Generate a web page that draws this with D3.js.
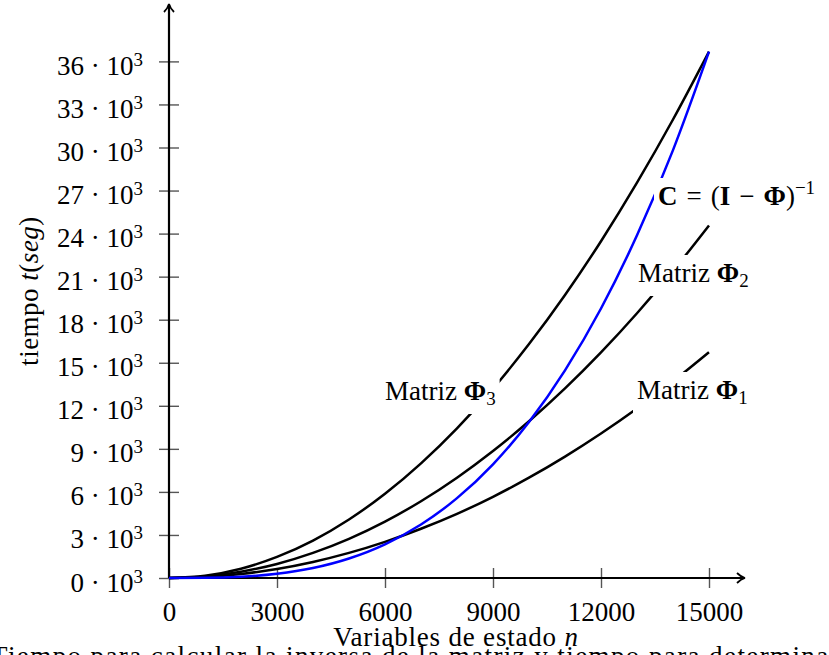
<!DOCTYPE html>
<html>
<head>
<meta charset="utf-8">
<script src="https://cdn.jsdelivr.net/npm/d3@7"></script>
<style>
  body { margin: 0; background: #fff; overflow: hidden; }
  text { font-family: "Liberation Serif", "Times New Roman", serif; fill: #000; }
</style>
</head>
<body>
<div id="chart"></div>
<script>
// variables de estado n
var nVals = [0, 1000, 2000, 3000, 4000, 5000, 6000, 7000, 8000, 9000, 10000, 11000, 12000, 13000, 14000, 15000];

// tiempo (seg)
var tPhi1 = [0, 70, 280, 630, 1120, 1750, 2520, 3430, 4470, 5660, 6990, 8460, 10070, 11810, 13700, 15730];
var tPhi2 = [0, 110, 440, 980, 1750, 2730, 3930, 5350, 6990, 8850, 10920, 13210, 15720, 18450, 21400, 24570];
var tPhi3 = [0, 160, 650, 1470, 2610, 4080, 5870, 7990, 10430, 13200, 16300, 19720, 23470, 27550, 31950, 36680];
var tInv  = [0, 11, 87, 293, 696, 1359, 2347, 3728, 5564, 7923, 10870, 14470, 18780, 23880, 29820, 36680];

var xTicks = [0, 3000, 6000, 9000, 12000, 15000];
var yTicks = [0, 3, 6, 9, 12, 15, 18, 21, 24, 27, 30, 33, 36];

var width = 829, height = 655;

var x = d3.scaleLinear().domain([0, 16000]).range([169, 745]);
var y = d3.scaleLinear().domain([0, 40000]).range([578, 4]);

var svg = d3.select("#chart").append("svg")
    .attr("width", width)
    .attr("height", height);

// ---- axes
var xAxis = svg.append("g")
    .attr("transform", "translate(0," + y(0) + ")")
    .call(d3.axisBottom(x).tickValues(xTicks).tickSize(10).tickFormat(d3.format("d")));
xAxis.select(".domain").remove();
xAxis.selectAll(".tick line").attr("y1", -10).attr("y2", 10)
    .attr("stroke", "#555").attr("stroke-width", 1.4);
xAxis.selectAll(".tick text")
    .attr("y", 43).attr("dy", null)
    .style("font-size", "27px");

var yAxis = svg.append("g")
    .attr("transform", "translate(" + x(0) + ",0)")
    .call(d3.axisLeft(y).tickValues(yTicks.map(function(d) { return d * 1000; })).tickSize(10));
yAxis.select(".domain").remove();
yAxis.selectAll(".tick line").attr("x1", -10).attr("x2", 10)
    .attr("stroke", "#555").attr("stroke-width", 1.4);
yAxis.selectAll(".tick text").each(function(d) {
  var t = d3.select(this);
  t.text(null).attr("x", -26).attr("dy", 13).attr("text-anchor", "end")
   .style("font-size", "27px");
  t.append("tspan").text((d / 1000) + " · 10");
  t.append("tspan").attr("dy", -9).style("font-size", "19px").text("3");
});

// axis lines with arrows
svg.append("line").attr("x1", x(0)).attr("x2", 744).attr("y1", y(0)).attr("y2", y(0))
    .attr("stroke", "#000").attr("stroke-width", 2.2);
svg.append("line").attr("x1", x(0)).attr("x2", x(0)).attr("y1", y(0)).attr("y2", 5)
    .attr("stroke", "#000").attr("stroke-width", 2.2);
svg.append("path")
    .attr("d", "M737,573 Q741,577 745,578 Q741,579 737,583")
    .attr("fill", "none").attr("stroke", "#000").attr("stroke-width", 1.8);
svg.append("path")
    .attr("d", "M164,12 Q168,8 169,4 Q170,8 174,12")
    .attr("fill", "none").attr("stroke", "#000").attr("stroke-width", 1.8);

// ---- curves
var line = d3.line()
    .x(function(d) { return x(d[0]); })
    .y(function(d) { return y(d[1]); })
    .curve(d3.curveMonotoneX);

var series = [
  {vals: tPhi1, color: "#000"},
  {vals: tPhi2, color: "#000"},
  {vals: tPhi3, color: "#000"},
  {vals: tInv,  color: "#0000ff"}
];

svg.append("g").selectAll("path")
    .data(series)
    .enter().append("path")
    .attr("d", function(s) { return line(d3.zip(nVals, s.vals)); })
    .attr("fill", "none")
    .attr("stroke", function(s) { return s.color; })
    .attr("stroke-width", 2.5);

// ---- labels with white boxes
var labels = svg.append("g");

function addLabel(xp, yp, parts) {
  var g = labels.append("g");
  var rect = g.append("rect").attr("fill", "#fff");
  var t = g.append("text").attr("x", xp).attr("y", yp).style("font-size", "27px");
  parts.forEach(function(p) {
    var ts = t.append("tspan").text(p.s);
    if (p.b) ts.style("font-weight", "bold");
    if (p.i) ts.style("font-style", "italic");
    if (p.dy) ts.attr("dy", p.dy);
    if (p.small) ts.style("font-size", "19px");
  });
  var bb = t.node().getBBox();
  rect.attr("x", bb.x - 4).attr("y", yp - 27)
      .attr("width", bb.width + 8).attr("height", 41);
}

addLabel(385, 400, [{s: "Matriz "}, {s: "Φ", b: true}, {s: "3", small: true, dy: 5}]);
addLabel(638, 282, [{s: "Matriz "}, {s: "Φ", b: true}, {s: "2", small: true, dy: 5}]);
addLabel(637, 399, [{s: "Matriz "}, {s: "Φ", b: true}, {s: "1", small: true, dy: 5}]);
addLabel(658, 205, [{s: "C", b: true}, {s: "\u2004=\u2004("}, {s: "I", b: true}, {s: "\u2004−\u2004"},
  {s: "Φ", b: true}, {s: ")"}, {s: "−1", small: true, dy: -11}]);

// ---- axis titles
svg.append("text")
    .attr("transform", "translate(38,291) rotate(-90)")
    .attr("text-anchor", "middle")
    .style("font-size", "27px")
    .style("letter-spacing", "0.5px")
    .call(function(t) {
      t.append("tspan").text("tiempo ");
      t.append("tspan").style("font-style", "italic").text("t");
      t.append("tspan").text("(");
      t.append("tspan").style("font-style", "italic").text("seg");
      t.append("tspan").text(")");
    });

svg.append("text")
    .attr("x", 456).attr("y", 646)
    .attr("text-anchor", "middle")
    .style("font-size", "27px")
    .style("letter-spacing", "0.8px")
    .call(function(t) {
      t.append("tspan").text("Variables de estado ");
      t.append("tspan").style("font-style", "italic").text("n");
    });

// caption, cut by the bottom edge
svg.append("text")
    .attr("x", -9).attr("y", 665)
    .style("font-size", "27px")
    .style("letter-spacing", "1.4px")
    .text("Tiempo para calcular la inversa de la matriz y tiempo para determinar las matrices Φ");
</script>
</body>
</html>
